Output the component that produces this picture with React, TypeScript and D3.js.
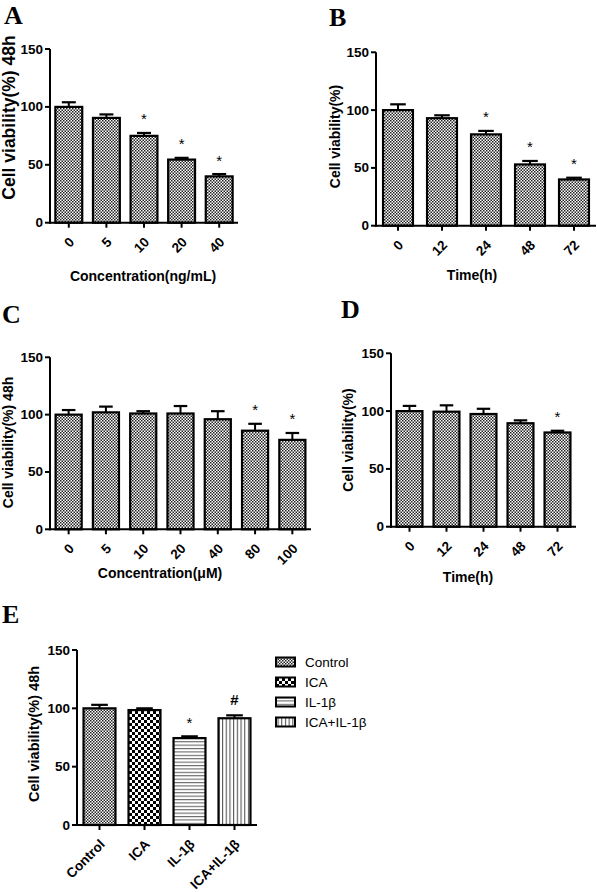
import React from "react";
import * as d3 from "d3";

// ---------- data ----------
const yTicks = [0, 50, 100, 150];

const aCategories = ["0", "5", "10", "20", "40"];
const aValues = [100, 90.5, 75, 54.5, 40];
const aErrors = [4, 3, 2.5, 1.5, 2];
const aMarks = ["", "", "*", "*", "*"];

const bCategories = ["0", "12", "24", "48", "72"];
const bValues = [100, 93, 79, 53, 40];
const bErrors = [5, 2.5, 3, 3, 1.5];
const bMarks = ["", "", "*", "*", "*"];

const cCategories = ["0", "5", "10", "20", "40", "80", "100"];
const cValues = [100, 102, 101, 101, 96, 86, 78];
const cErrors = [4, 5, 2, 6.5, 7, 6, 6];
const cMarks = ["", "", "", "", "", "*", "*"];

const dCategories = ["0", "12", "24", "48", "72"];
const dValues = [100, 99.5, 97.5, 89.5, 81.5];
const dErrors = [4.5, 5.5, 4.5, 2.5, 1.5];
const dMarks = ["", "", "", "", "*"];

const eCategories = ["Control", "ICA", "IL-1β", "ICA+IL-1β"];
const eValues = [100, 98.5, 74.5, 91.5];
const eErrors = [3, 1.5, 1.5, 2.5];
const eMarks = ["", "", "*", "#"];

const SANS = "'Liberation Sans', Arial, sans-serif";
const SERIF = "'Liberation Serif', 'Times New Roman', serif";

type PanelProps = {
  cats: string[];
  vals: number[];
  errs: number[];
  marks: string[];
  x0: number;
  x1: number;
  yTop: number;
  yBot: number;
  pad: number;
  fills: string[];
  yTitle: string;
  yTitleX: number;
  yTitleY: number;
  yTitleSize: number;
  xTitle: string;
  xTitleX: number;
  xTitleY: number;
  letter: string;
  letterX: number;
  letterY: number;
};

function Panel(p: PanelProps) {
  const x = d3
    .scaleBand<string>()
    .domain(p.cats)
    .range([p.x0, p.x1])
    .paddingInner(p.pad)
    .paddingOuter(p.pad / 2);
  const y = d3.scaleLinear().domain([0, 150]).range([p.yBot, p.yTop]);
  const bw = x.bandwidth();
  return (
    <g>
      <text x={p.letterX} y={p.letterY} fontFamily={SERIF} fontWeight="bold" fontSize={26} fill="#000">
        {p.letter}
      </text>
      {p.cats.map((c, i) => {
        const left = x(c)!;
        const cx = left + bw / 2;
        const top = y(p.vals[i]);
        const et = y(p.vals[i] + p.errs[i]);
        const m = p.marks[i];
        return (
          <g key={c}>
            <rect
              x={left}
              y={top}
              width={bw}
              height={p.yBot - top}
              fill={`url(#${p.fills[i % p.fills.length]})`}
              stroke="#000"
              strokeWidth={2.2}
            />
            <line x1={cx} x2={cx} y1={top} y2={et} stroke="#000" strokeWidth={2} />
            <line x1={cx - bw * 0.26} x2={cx + bw * 0.26} y1={et} y2={et} stroke="#000" strokeWidth={2.2} />
            {m === "*" && (
              <text x={cx} y={et - 8.5} textAnchor="middle" fontFamily={SANS} fontSize={15} fill="#000">
                *
              </text>
            )}
            {m === "#" && (
              <text x={cx} y={et - 10.5} textAnchor="middle" fontFamily={SANS} fontWeight="bold" fontSize={15} fill="#000">
                #
              </text>
            )}
            <line x1={cx} x2={cx} y1={p.yBot} y2={p.yBot + 5} stroke="#000" strokeWidth={2} />
            <text
              transform={`translate(${cx + 3},${p.yBot + 17}) rotate(-45)`}
              textAnchor="end"
              dominantBaseline="central"
              fontFamily={SANS}
              fontWeight="bold"
              fontSize={13.5}
              fill="#000"
            >
              {c}
            </text>
          </g>
        );
      })}
      <line x1={p.x0} x2={p.x0} y1={p.yTop} y2={p.yBot + 1} stroke="#000" strokeWidth={2} />
      <line x1={p.x0 - 1} x2={p.x1} y1={p.yBot} y2={p.yBot} stroke="#000" strokeWidth={2} />
      {yTicks.map((t) => (
        <g key={t}>
          <line x1={p.x0 - 5} x2={p.x0} y1={y(t)} y2={y(t)} stroke="#000" strokeWidth={2} />
          <text
            x={p.x0 - 7}
            y={y(t)}
            textAnchor="end"
            dominantBaseline="central"
            fontFamily={SANS}
            fontWeight="bold"
            fontSize={13.5}
            fill="#000"
          >
            {t}
          </text>
        </g>
      ))}
      <text
        transform={`translate(${p.yTitleX},${p.yTitleY}) rotate(-90)`}
        textAnchor="middle"
        fontFamily={SANS}
        fontWeight="bold"
        fontSize={p.yTitleSize}
        fill="#000"
      >
        {p.yTitle}
      </text>
      {p.xTitle && (
        <text x={p.xTitleX} y={p.xTitleY} textAnchor="middle" fontFamily={SANS} fontWeight="bold" fontSize={14} fill="#000">
          {p.xTitle}
        </text>
      )}
    </g>
  );
}

export default function App() {
  const legendRows = [662, 682, 702, 722];
  const legendFills = ["pFine", "pCoarse", "pHoriz", "pVert"];
  return (
    <svg
      width={597}
      height={892}
      viewBox="0 0 597 892"
      style={{ position: "absolute", left: 0, top: 0, background: "#fff" }}
    >
      <defs>
        <pattern id="pFine" patternUnits="userSpaceOnUse" width={3} height={3}>
          <rect width={3} height={3} fill="#fff" />
          <rect x={0} y={0} width={1.5} height={1.5} fill="#222" />
          <rect x={1.5} y={1.5} width={1.5} height={1.5} fill="#222" />
        </pattern>
        <pattern id="pCoarse" patternUnits="userSpaceOnUse" width={6} height={6}>
          <rect width={6} height={6} fill="#fff" />
          <rect x={0} y={0} width={3} height={3} fill="#000" />
          <rect x={3} y={3} width={3} height={3} fill="#000" />
        </pattern>
        <pattern id="pHoriz" patternUnits="userSpaceOnUse" width={4} height={3.4}>
          <rect width={4} height={3.4} fill="#fff" />
          <rect x={0} y={0} width={4} height={1.1} fill="#666" />
        </pattern>
        <pattern id="pVert" patternUnits="userSpaceOnUse" width={3.7} height={4}>
          <rect width={3.7} height={4} fill="#fff" />
          <rect x={0} y={0} width={1.1} height={4} fill="#555" />
        </pattern>
      </defs>
      <rect width={597} height={892} fill="#fff" />

      <Panel
        cats={aCategories}
        vals={aValues}
        errs={aErrors}
        marks={aMarks}
        x0={50}
        x1={238}
        yTop={49}
        yBot={222.7}
        pad={0.285}
        fills={["pFine"]}
        yTitle="Cell viability(%) 48h"
        yTitleX={15}
        yTitleY={117.5}
        yTitleSize={17.5}
        xTitle="Concentration(ng/mL)"
        xTitleX={143}
        xTitleY={281}
        letter="A"
        letterX={4}
        letterY={24}
      />
      <Panel
        cats={bCategories}
        vals={bValues}
        errs={bErrors}
        marks={bMarks}
        x0={376}
        x1={596}
        yTop={52.3}
        yBot={225.7}
        pad={0.32}
        fills={["pFine"]}
        yTitle="Cell viability(%)"
        yTitleX={340}
        yTitleY={136.5}
        yTitleSize={14}
        xTitle="Time(h)"
        xTitleX={472}
        xTitleY={280}
        letter="B"
        letterX={329}
        letterY={26}
      />
      <Panel
        cats={cCategories}
        vals={cValues}
        errs={cErrors}
        marks={cMarks}
        x0={50}
        x1={311}
        yTop={357.3}
        yBot={529.3}
        pad={0.3}
        fills={["pFine"]}
        yTitle="Cell viability(%) 48h"
        yTitleX={13}
        yTitleY={442.5}
        yTitleSize={14}
        xTitle="Concentration(μM)"
        xTitleX={160}
        xTitleY={578}
        letter="C"
        letterX={2}
        letterY={323}
      />
      <Panel
        cats={dCategories}
        vals={dValues}
        errs={dErrors}
        marks={dMarks}
        x0={391}
        x1={576}
        yTop={353.3}
        yBot={526.7}
        pad={0.3}
        fills={["pFine"]}
        yTitle="Cell viability(%)"
        yTitleX={353}
        yTitleY={440}
        yTitleSize={14}
        xTitle="Time(h)"
        xTitleX={468}
        xTitleY={582}
        letter="D"
        letterX={341}
        letterY={318}
      />
      <Panel
        cats={eCategories}
        vals={eValues}
        errs={eErrors}
        marks={eMarks}
        x0={77}
        x1={257}
        yTop={650}
        yBot={825}
        pad={0.29}
        fills={legendFills}
        yTitle="Cell viability(%) 48h"
        yTitleX={39}
        yTitleY={734}
        yTitleSize={14.5}
        xTitle=""
        xTitleX={0}
        xTitleY={0}
        letter="E"
        letterX={2}
        letterY={623}
      />
      {eCategories.map((c, i) => (
        <g key={c}>
          <rect
            x={276}
            y={legendRows[i] - 4.5}
            width={19}
            height={9}
            fill={`url(#${legendFills[i]})`}
            stroke="#000"
            strokeWidth={2}
          />
          <text
            x={305}
            y={legendRows[i]}
            dominantBaseline="central"
            fontFamily={SANS}
            fontSize={13.5}
            fill="#000"
          >
            {c}
          </text>
        </g>
      ))}
    </svg>
  );
}
